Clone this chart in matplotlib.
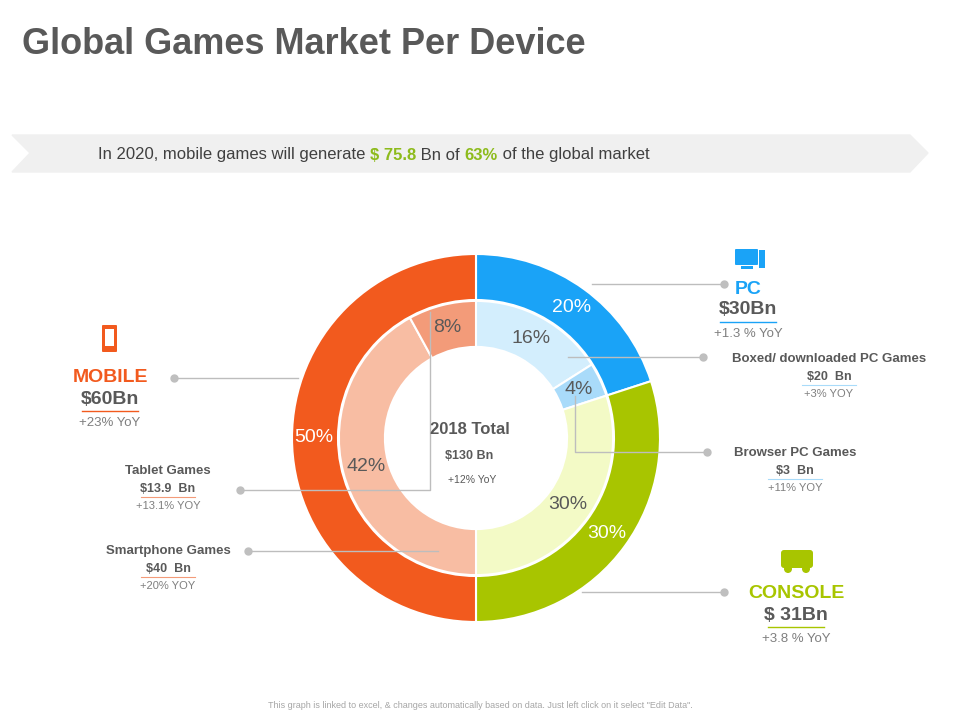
import matplotlib.pyplot as plt
from matplotlib.patches import Polygon, FancyBboxPatch, Rectangle, Circle

plt.rcParams['font.family'] = 'Liberation Sans'

# ===== data =====
outer_labels = ['PC', 'CONSOLE', 'MOBILE']
outer_values = [20, 30, 50]
outer_colors = ['#1AA3F7', '#A8C500', '#F25A1E']

inner_labels = ['Boxed/ downloaded PC Games', 'Browser PC Games', 'Console',
                'Smartphone Games', 'Tablet Games']
inner_values = [16, 4, 30, 42, 8]
inner_colors = ['#D3EEFD', '#A9DBFA', '#F3FAC6', '#F8BDA3', '#F39B79']

GRAY = '#595959'
LINE = '#BDBDBD'

fig = plt.figure(figsize=(9.6, 7.2), dpi=100)
ax = fig.add_axes([0, 0, 1, 1])
ax.set_xlim(0, 960)
ax.set_ylim(720, 0)
ax.set_aspect('equal')
ax.axis('off')

# title + banner
ax.text(22, 45, 'Global Games Market Per Device', fontsize=26, fontweight='bold',
        color=GRAY, va='center')
ax.add_patch(Polygon([(12, 135), (910, 135), (928, 153), (910, 172), (12, 172), (30, 153)],
                     closed=True, color='#F0F0F0', zorder=1))
x0 = 98
parts = [('In 2020, mobile games will generate ', '#404040', 'normal'),
         ('$ 75.8', '#8DBB1C', 'bold'), (' Bn of ', '#404040', 'normal'),
         ('63%', '#8DBB1C', 'bold'), (' of the global market', '#404040', 'normal')]
for s, c, w in parts:
    t = ax.text(x0, 155, s, fontsize=12, color=c, fontweight=w, va='center', zorder=2)
    fig.canvas.draw()
    bb = t.get_window_extent()
    x0 += bb.width

# donuts
cx, cy = 476, 438
pie_ax = fig.add_axes([(cx - 184) / 960, 1 - (cy + 184) / 720, 368 / 960, 368 / 720])
pie_ax.set_aspect('equal')
pie_ax.pie(outer_values, colors=outer_colors, startangle=90, counterclock=False,
           radius=1.0, wedgeprops=dict(width=0.25, edgecolor='white', linewidth=1.5),
           autopct=lambda p: f'{p:.0f}%', pctdistance=0.88,
           textprops=dict(color='white', fontsize=14))
pie_ax.pie(inner_values, colors=inner_colors, startangle=90, counterclock=False,
           radius=0.745, wedgeprops=dict(width=0.25, edgecolor='white', linewidth=1.5),
           autopct=lambda p: f'{p:.0f}%', pctdistance=0.83,
           textprops=dict(color=GRAY, fontsize=14))
pie_ax.set_xlim(-1, 1)
pie_ax.set_ylim(-1, 1)
pie_ax.axis('off')

# overlay axes for leaders/text on top of pie
ov = fig.add_axes([0, 0, 1, 1])
ov.set_xlim(0, 960)
ov.set_ylim(720, 0)
ov.axis('off')

def leader(pts, dot):
    xs, ys = zip(*pts)
    ov.plot(xs, ys, color=LINE, lw=1)
    ov.plot(*dot, 'o', color='#BFBFBF', ms=5)

leader([(174, 378), (298, 378)], (174, 378))
leader([(240, 490), (430, 490), (430, 312)], (240, 490))
leader([(248, 551), (438, 551)], (248, 551))
leader([(592, 284), (724, 284)], (724, 284))
leader([(568, 357), (703, 357)], (703, 357))
leader([(575, 396), (575, 452), (707, 452)], (707, 452))
leader([(582, 592), (724, 592)], (724, 592))

# centre
ov.text(470, 429, '2018 Total', fontsize=12, fontweight='bold', color=GRAY, ha='center', va='center')
ov.text(469, 456, '$130 Bn', fontsize=9, fontweight='bold', color=GRAY, ha='center', va='center')
ov.text(472, 480, '+12% YoY', fontsize=7.5, color=GRAY, ha='center', va='center')

def block(x, y, name, val, yoy, col, big=True):
    if big:
        ov.text(x, y, name, fontsize=14, fontweight='bold', color=col, ha='center', va='center')
        ov.text(x, y + 21, val, fontsize=14, fontweight='bold', color=GRAY, ha='center', va='center')
        ov.plot([x - 28, x + 28], [y + 33, y + 33], color=col, lw=1)
        ov.text(x, y + 45, yoy, fontsize=9.5, color='#7F7F7F', ha='center', va='center')
    else:
        ov.text(x, y, name, fontsize=9.5, fontweight='bold', color=GRAY, ha='center', va='center')
        ov.text(x, y + 18, val, fontsize=9, fontweight='bold', color=GRAY, ha='center', va='center')
        ov.plot([x - 27, x + 27], [y + 26, y + 26], color=col, lw=0.8)
        ov.text(x, y + 35, yoy, fontsize=8, color='#7F7F7F', ha='center', va='center')

block(110, 378, 'MOBILE', '$60Bn', '+23% YoY', '#F25A1E')
block(748, 289, 'PC', '$30Bn', '+1.3 % YoY', '#1AA3F7')
block(796, 594, 'CONSOLE', '$ 31Bn', '+3.8 % YoY', '#A8C500')
block(168, 471, 'Tablet Games', '$13.9  Bn', '+13.1% YOY', '#F39B79', big=False)
block(168, 551, 'Smartphone Games', '$40  Bn', '+20% YOY', '#F39B79', big=False)
block(829, 359, 'Boxed/ downloaded PC Games', '$20  Bn', '+3% YOY', '#A9DBFA', big=False)
block(795, 453, 'Browser PC Games', '$3  Bn', '+11% YOY', '#A9DBFA', big=False)

# icons (simple shapes)
ov.add_patch(FancyBboxPatch((103, 326), 13, 25, boxstyle='round,pad=1', fc='#F25A1E', ec='none'))
ov.add_patch(Rectangle((105, 329), 9, 17, fc='white', ec='none'))
ov.add_patch(FancyBboxPatch((736, 250), 21, 14, boxstyle='round,pad=1', fc='#1AA3F7', ec='none'))
ov.add_patch(Rectangle((759, 250), 6, 18, fc='#1AA3F7', ec='none'))
ov.add_patch(Rectangle((741, 266), 12, 3, fc='#1AA3F7', ec='none'))
ov.add_patch(FancyBboxPatch((784, 553), 26, 12, boxstyle='round,pad=3', fc='#A8C500', ec='none'))
ov.add_patch(Circle((788, 569), 4, fc='#A8C500', ec='none'))
ov.add_patch(Circle((806, 569), 4, fc='#A8C500', ec='none'))

ov.text(480, 705, 'This graph is linked to excel, & changes automatically based on data. Just left click on it select "Edit Data".',
        fontsize=6.5, color='#A6A6A6', ha='center', va='center')

fig.savefig('out.png', dpi=100)
